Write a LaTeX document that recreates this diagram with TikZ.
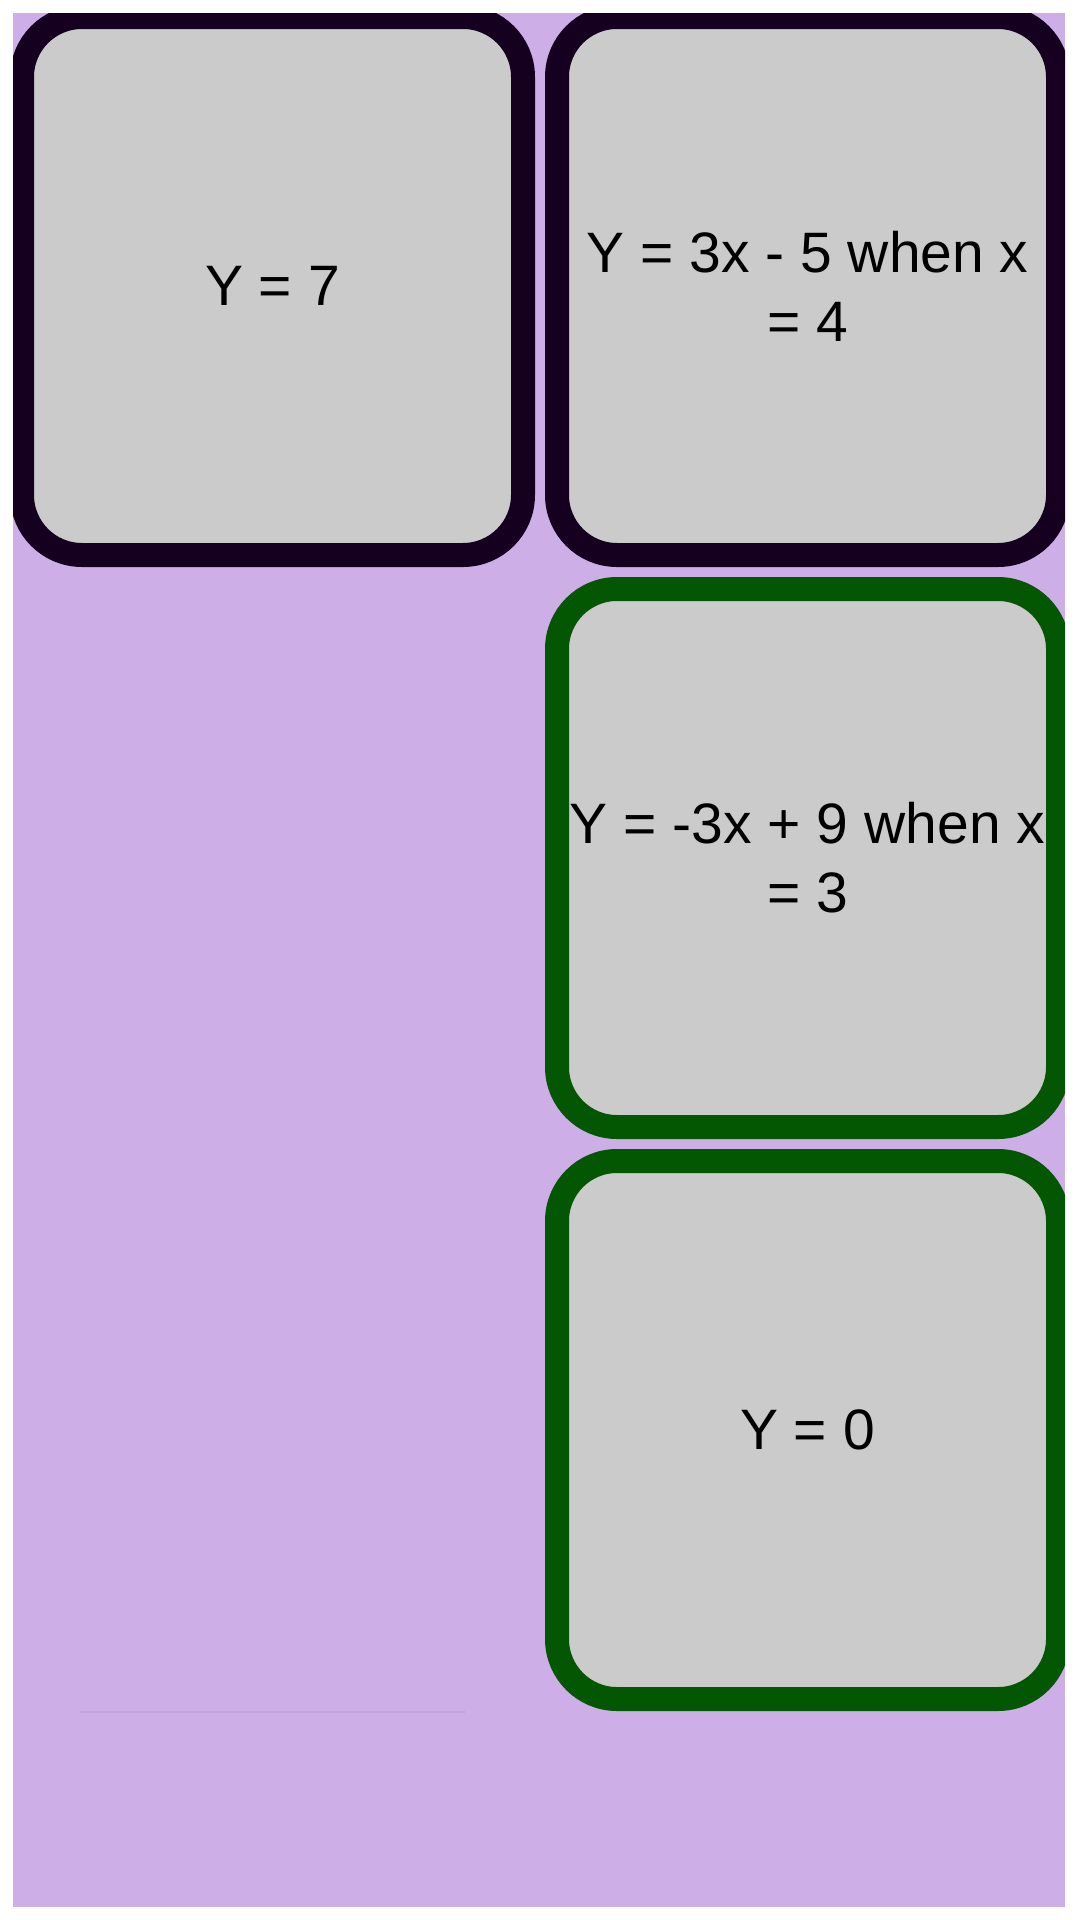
\documentclass[tikz,border=0pt]{standalone}
\usepackage{fontspec}
\setmainfont{Liberation Sans}
\usetikzlibrary{positioning}

\definecolor{lilac}{HTML}{CDAEE6}
\definecolor{lilacline}{HTML}{C2A2DC}
\definecolor{cardgray}{HTML}{CBCBCB}
\definecolor{darkrim}{HTML}{150020}
\definecolor{greenrim}{HTML}{035703}

\tikzset{
  card/.style={draw=#1, fill=cardgray, line width=24pt, rounded corners=60pt,
    minimum width=501pt, minimum height=538pt, inner sep=0pt, outer sep=0pt,
    align=center, font=\fontsize{57}{69}\selectfont}
}

\begin{document}
\begin{tikzpicture}[x=1pt, y=-1pt]
  \useasboundingbox[fill=white] (0,0) rectangle (1080,1920);
  \fill[lilac] (13,13) rectangle (1065,1907);

  \begin{scope}
  \clip (13,13) rectangle (1065,1907);
  \node[card=darkrim] (first) at (272.5,286) {Y = 7};
  \node[card=darkrim, right=34pt of first] (second) {Y = 3x - 5 when x\\= 4};
  \node[card=greenrim, below=34pt of second] (third) {Y = -3x + 9 when x\\= 3};
  \node[card=greenrim, below=34pt of third] (fourth) {Y = 0};
  \end{scope}

  % faint rule under the empty column
  \coordinate (ruleL) at (80,1712);
  \coordinate (ruleR) at (465,1712);
  \draw[lilacline, line width=1.2pt] (ruleL) -- (ruleR);
\end{tikzpicture}
\end{document}
